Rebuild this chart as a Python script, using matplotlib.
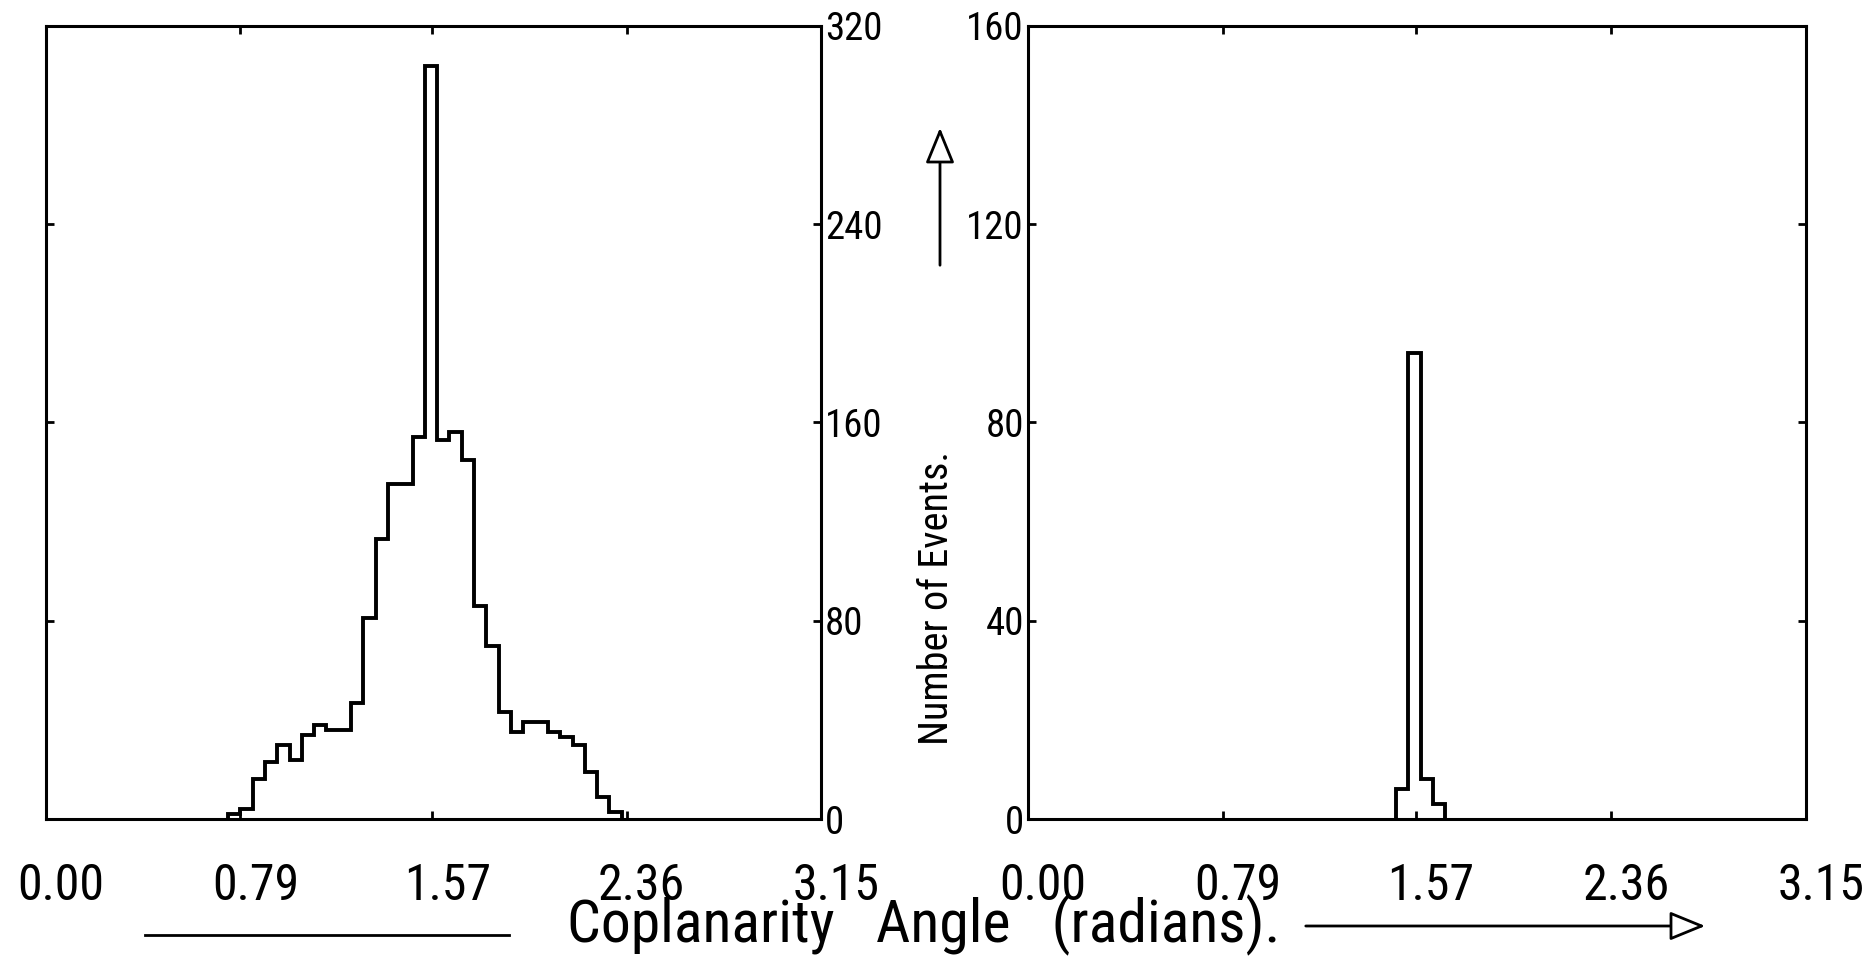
import matplotlib
matplotlib.use("Agg")
import matplotlib.pyplot as plt
import numpy as np
from matplotlib import font_manager
from matplotlib.patches import FancyArrowPatch
from matplotlib.lines import Line2D
from matplotlib.transforms import ScaledTranslation

# ---- data ----
bin_width = 0.05
left_start = 0.74
left_counts = [2, 4, 16, 23, 30, 24, 34, 38, 36, 36, 47, 81, 113, 135, 135, 154,
               304, 153, 156, 145, 86, 70, 43, 35, 39, 39, 35, 33, 30, 19, 9, 3]
right_start = 1.49
right_counts = [6, 94, 8, 3]

xticks = [0.0, 0.79, 1.57, 2.36, 3.15]
xtick_labels = ["0.00", "0.79", "1.57", "2.36", "3.15"]
left_yticks = [0, 80, 160, 240, 320]
right_yticks = [0, 40, 80, 120, 160]
xlabel = "Coplanarity   Angle   (radians)."
ylabel = "Number of Events."

# ---- look for a condensed / narrow sans font ----
narrow_path = None
cands = []
for f in font_manager.fontManager.ttflist:
    low = (f.name + " " + f.fname).lower()
    if any(k in low for k in ("narrow", "condensed")) and "bold" not in low and "italic" not in low \
            and "oblique" not in low and "light" not in low and "thin" not in low and "mono" not in low:
        cands.append(f)
pref = ["liberation sans narrow", "roboto condensed", "dejavu sans condensed", "open sans condensed",
        "noto sans condensed", "narrow", "condensed"]
for p in pref:
    for f in cands:
        if p in (f.name + " " + f.fname).lower().replace("-", " ").replace("_", " "):
            narrow_path = f.fname
            break
    if narrow_path:
        break

if narrow_path:
    def fp(size):
        return font_manager.FontProperties(fname=narrow_path, size=size)
    scale = 1.0
else:
    def fp(size):
        return font_manager.FontProperties(family="Liberation Sans", size=size)
    scale = 0.82

fig = plt.figure(figsize=(18.66, 9.6), dpi=100)
W, H = 1866, 960
axL = fig.add_axes([46 / W, 1 - 819 / H, (821 - 46) / W, (819 - 26) / H])
axR = fig.add_axes([1028 / W, 1 - 819 / H, (1806 - 1028) / W, (819 - 26) / H])

def edges(start, counts):
    return start + bin_width * np.arange(len(counts) + 1)

axL.stairs(left_counts, edges(left_start, left_counts), color="black", lw=2.8, baseline=0)
axR.stairs(right_counts, edges(right_start, right_counts), color="black", lw=2.8, baseline=0)

shift = ScaledTranslation(0.15, 0, fig.dpi_scale_trans)
for ax, yt, ymax in ((axL, left_yticks, 320), (axR, right_yticks, 160)):
    ax.set_xlim(0, 3.15)
    ax.set_ylim(0, ymax)
    ax.set_xticks(xticks)
    ax.set_xticklabels(xtick_labels, fontproperties=fp(36 * scale))
    ax.set_yticks(yt)
    ax.set_yticklabels([str(v) for v in yt], fontproperties=fp(28 * scale))
    for s in ax.spines.values():
        s.set_linewidth(2.2)
    ax.tick_params(axis="x", direction="in", top=True, bottom=True, length=6, width=2, pad=31)
    ax.tick_params(axis="y", direction="in", left=True, right=True, length=6, width=2, pad=3)
    for lab in ax.get_xticklabels():
        lab.set_transform(lab.get_transform() + shift)

axL.tick_params(axis="y", labelleft=False, labelright=True)
axR.tick_params(axis="y", labelleft=True, labelright=False)

# y label with arrow
fig.text(936 / W, 1 - 598 / H, ylabel, rotation=90, fontproperties=fp(29 * scale),
         ha="center", va="center")
fig.add_artist(FancyArrowPatch(
    (940 / W, 1 - 268 / H), (940 / W, 1 - 125 / H), transform=fig.transFigure,
    arrowstyle="-|>,head_length=22,head_width=9", mutation_scale=1,
    edgecolor="black", facecolor="white", lw=2))

# x label with lines
fig.text(924 / W, 1 - 925 / H, xlabel, fontproperties=fp(43 * scale), ha="center", va="center")
fig.add_artist(Line2D([145 / W, 509 / W], [1 - 935 / H, 1 - 935 / H],
                      transform=fig.transFigure, color="black", lw=2))
fig.add_artist(FancyArrowPatch(
    (1303 / W, 1 - 926 / H), (1708 / W, 1 - 926 / H), transform=fig.transFigure,
    arrowstyle="-|>,head_length=22,head_width=9", mutation_scale=1,
    edgecolor="black", facecolor="white", lw=2))

fig.savefig("out.png", dpi=100)
